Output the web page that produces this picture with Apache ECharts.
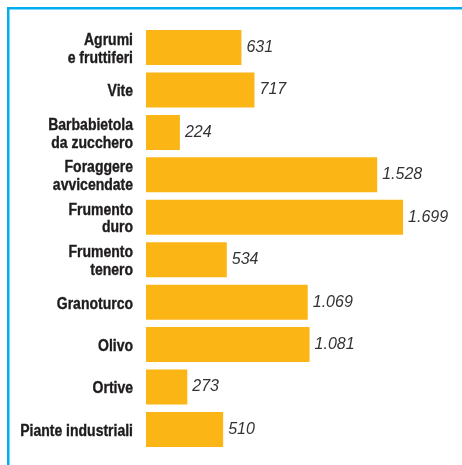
<!DOCTYPE html>
<html>
<head>
<meta charset="utf-8">
<style>
  html, body { margin: 0; padding: 0; background: #fff; }
  #chart { width: 462px; height: 465px; }
</style>
<script src="https://cdn.jsdelivr.net/npm/echarts@6/dist/echarts.min.js"></script>
</head>
<body>
<div id="chart"></div>
<script>
// Colture: superfici per coltura
const categories = [
  'Agrumi\ne fruttiferi',
  'Vite',
  'Barbabietola\nda zucchero',
  'Foraggere\navvicendate',
  'Frumento\nduro',
  'Frumento\ntenero',
  'Granoturco',
  'Olivo',
  'Ortive',
  'Piante industriali'
];
const values = [631, 717, 224, 1528, 1699, 534, 1069, 1081, 273, 510];

const chart = echarts.init(document.getElementById('chart'), null, { renderer: 'canvas' });

// Italian thousands separator
function fmt(v) {
  return String(v).replace(/\B(?=(\d{3})+(?!\d))/g, '.');
}

const frame = [
  { id: 'frameTop', type: 'rect', shape: { x: 7, y: 7, width: 455, height: 2.5 }, style: { fill: '#00aeef' } },
  { id: 'frameLeft', type: 'rect', shape: { x: 7, y: 7, width: 2.5, height: 458 }, style: { fill: '#00aeef' } }
];

chart.setOption({
  animation: false,
  backgroundColor: '#ffffff',
  grid: { left: 146, right: 13.4, top: 26.3, bottom: 14.3, containLabel: false },
  xAxis: {
    type: 'value',
    min: 0,
    max: 2000,
    show: false
  },
  yAxis: {
    type: 'category',
    data: categories,
    inverse: true,
    axisLine: { show: false },
    axisTick: { show: false },
    splitLine: { show: false },
    // category names are drawn below as condensed text
    axisLabel: { show: false }
  },
  series: [{
    type: 'bar',
    data: values,
    barWidth: 35,
    itemStyle: { color: '#fbb616' },
    label: {
      show: true,
      position: 'right',
      distance: 5,
      color: '#333333',
      fontFamily: '"Liberation Sans", Arial, sans-serif',
      fontStyle: 'italic',
      fontSize: 16,
      formatter: p => fmt(p.value)
    }
  }],
  graphic: frame
});

// Condensed bold category names, placed on the category axis positions
const x0 = chart.convertToPixel({ xAxisIndex: 0 }, 0) - 13;
const names = categories.map((c, i) => ({
  id: 'cat' + i,
  type: 'text',
  x: x0,
  y: chart.convertToPixel({ yAxisIndex: 0 }, i) + 2,
  scaleX: 0.875,
  style: {
    text: c,
    x: 0,
    y: 0,
    align: 'right',
    verticalAlign: 'middle',
    fill: '#1e1b1c',
    stroke: '#1e1b1c',
    lineWidth: 0.35,
    fontFamily: '"Liberation Sans", Arial, sans-serif',
    fontWeight: 'bold',
    fontSize: 16,
    lineHeight: 17.5
  }
}));
chart.setOption({ graphic: frame.concat(names) });
</script>
</body>
</html>
